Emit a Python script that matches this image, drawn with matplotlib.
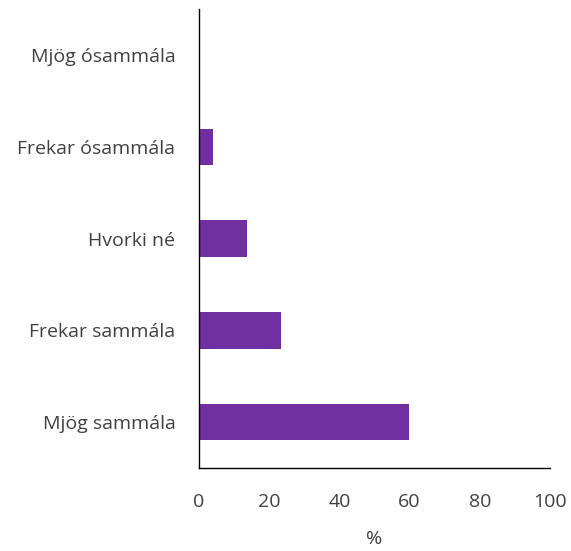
import matplotlib
matplotlib.use("Agg")
import matplotlib.pyplot as plt

# survey answers, bottom to top
categories = ["Mjög sammála", "Frekar sammála", "Hvorki né", "Frekar ósammála", "Mjög ósammála"]
values = [59.8, 23.3, 13.6, 4.0, 0.0]
xticks = [0, 20, 40, 60, 80, 100]

BAR = "#7030A0"
TEXT = "#404040"

plt.rcParams["font.family"] = ["Open Sans", "DejaVu Sans"]

fig = plt.figure(figsize=(5.71, 5.51), dpi=100)
ax = fig.add_axes([199 / 571, 83 / 551, 351 / 571, 458.5 / 551])

ax.barh(range(len(categories)), values, height=0.4, color=BAR, edgecolor="none")
ax.set_yticks(range(len(categories)))
ax.set_yticklabels(categories)
ax.set_ylim(-0.5, len(categories) - 0.5)
ax.set_xlim(0, 100)
ax.set_xticks(xticks)

for side in ("top", "right"):
    ax.spines[side].set_visible(False)
for side in ("left", "bottom"):
    ax.spines[side].set_color("#000000")
    ax.spines[side].set_linewidth(1.0)

ax.tick_params(length=0, labelsize=14, colors=TEXT)
ax.tick_params(axis="x", pad=18)
ax.tick_params(axis="y", pad=17)
ax.set_xlabel("%", fontsize=14, color=TEXT, labelpad=14)

fig.savefig("out.png", dpi=100, facecolor="white")
